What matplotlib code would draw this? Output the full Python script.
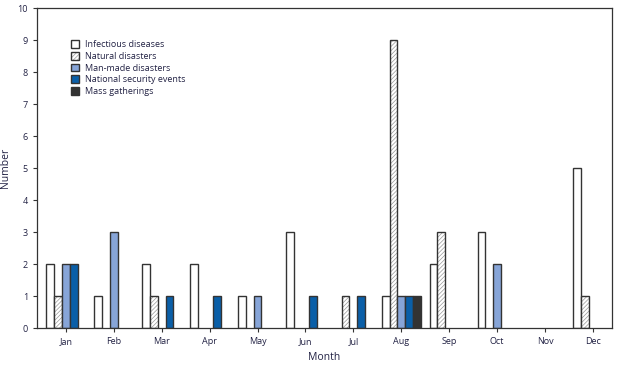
import numpy as np
import matplotlib
matplotlib.use('Agg')
import matplotlib.pyplot as plt

plt.rcParams['font.family'] = ['Open Sans', 'DejaVu Sans']
plt.rcParams['hatch.linewidth'] = 0.5

# 数据
months = ['Jan', 'Feb', 'Mar', 'Apr', 'May', 'Jun', 'Jul', 'Aug', 'Sep', 'Oct', 'Nov', 'Dec']
infectious = [2, 1, 2, 2, 1, 3, 0, 1, 2, 3, 0, 5]
natural = [1, 0, 1, 0, 0, 0, 1, 9, 3, 0, 0, 1]
man_made = [2, 3, 0, 0, 1, 0, 0, 1, 0, 2, 0, 0]
national = [2, 0, 1, 1, 0, 1, 1, 1, 0, 0, 0, 0]
mass = [0, 0, 0, 0, 0, 0, 0, 1, 0, 0, 0, 0]

series = [
    ('Infectious diseases', infectious, 'white', None),
    ('Natural disasters', natural, 'white', '////////'),
    ('Man-made disasters', man_made, '#87a5d8', None),
    ('National security events', national, '#0a5fa8', None),
    ('Mass gatherings', mass, '#333333', None),
]

fig = plt.figure(figsize=(6.39, 3.65), dpi=100)
ax = fig.add_axes([0.058, 0.101, 0.9, 0.877])

x = np.arange(len(months))
w = 0.163
handles = []
for i, (name, vals, col, hatch) in enumerate(series):
    pos = x + (i - 2) * w
    v = np.array(vals)
    m = v > 0
    if hatch:
        # 灰色斜线 + 深色边框
        h1 = ax.bar(pos[m], v[m], width=w, color=col, edgecolor='#999999', linewidth=0,
                    hatch=hatch)
        h2 = ax.bar(pos[m], v[m], width=w, fill=False, edgecolor='#333333', linewidth=1.0)
        handles.append((h1, h2))
    else:
        h = ax.bar(pos[m], v[m], width=w, color=col, edgecolor='#333333', linewidth=1.0)
        handles.append(h)

ax.set_xlim(-0.6, 11.4)
ax.set_ylim(0, 10)
ax.set_yticks(range(0, 11))
ax.set_xticks(x)
ax.set_xticklabels(months)
ax.tick_params(labelsize=6.5, colors='#333333', length=3, width=0.8, labelcolor='#222244')
for s in ax.spines.values():
    s.set_color('#333333')
    s.set_linewidth(0.9)
ax.set_xlabel('Month', fontsize=7.5, color='#222244', labelpad=4)
ax.set_ylabel('Number', fontsize=7.5, color='#222244')
ax.yaxis.set_label_coords(-0.045, 0.5)

leg = ax.legend(handles, [s[0] for s in series], loc='upper left',
                bbox_to_anchor=(0.045, 0.925), frameon=False, fontsize=6.5,
                handlelength=0.9, handleheight=0.9, handletextpad=0.6, labelspacing=0.3)
for t in leg.get_texts():
    t.set_color('#222244')

fig.savefig('out.png', dpi=100)
